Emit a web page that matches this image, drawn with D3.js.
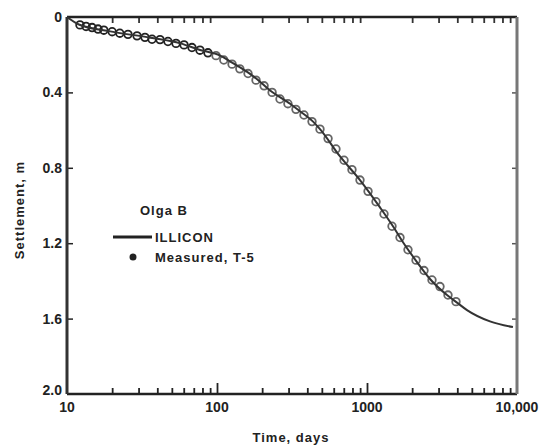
<!DOCTYPE html>
<html>
<head>
<meta charset="utf-8">
<script src="https://cdn.jsdelivr.net/npm/d3@7"></script>
<style>
    body { margin: 0; background: #fff; }
    svg text { font-family: "Liberation Sans", Arial, sans-serif; font-weight: bold; fill: #222; }
</style>
</head>
<body>
<div id="chart"></div>
<script>
// ILLICON prediction (time in days, settlement in m)
var illiconTime = [10, 12, 19, 36, 57, 77, 105, 122, 158, 185, 226, 307, 357, 437, 486, 661, 898, 1221, 1490, 1738, 2154, 2630, 3415, 3981, 4642, 6607, 9400];
var illiconSettle = [0, 0.04, 0.075, 0.11, 0.14, 0.175, 0.205, 0.235, 0.29, 0.33, 0.39, 0.46, 0.50, 0.555, 0.595, 0.74, 0.865, 1.01, 1.11, 1.195, 1.30, 1.39, 1.475, 1.515, 1.555, 1.615, 1.645];

// measured, T-5
var measuredTime = [12.2, 13.4, 14.7, 16.1, 17.6, 20, 22.5, 25.5, 29.3, 33.1, 36.9, 41.7, 47.1, 53.3, 60.3, 68.1, 77, 87, 98.5, 111, 126, 142, 161, 182, 206, 233, 263, 297, 336, 380, 430, 486, 550, 621, 703, 794, 898, 1016, 1148, 1298, 1468, 1660, 1876, 2122, 2399, 2712, 3066, 3467, 3920];
var measuredSettle = [0.042, 0.05, 0.056, 0.064, 0.07, 0.078, 0.086, 0.092, 0.10, 0.108, 0.118, 0.12, 0.13, 0.14, 0.148, 0.162, 0.176, 0.19, 0.205, 0.228, 0.25, 0.275, 0.30, 0.335, 0.365, 0.40, 0.435, 0.46, 0.49, 0.52, 0.555, 0.595, 0.645, 0.70, 0.76, 0.81, 0.865, 0.925, 0.98, 1.045, 1.11, 1.17, 1.235, 1.29, 1.345, 1.395, 1.43, 1.475, 1.51];

var xTickValues = [10, 100, 1000, 10000];
var xTickLabels = ["10", "100", "1000", "10,000"];
var yTickValues = [0, 0.4, 0.8, 1.2, 1.6, 2.0];
var yTickLabels = ["0", "0.4", "0.8", "1.2", "1.6", "2.0"];

var W = 546, H = 447;
var margin = {top: 17, right: 29, bottom: 53, left: 67},
    width = W - margin.left - margin.right,
    height = H - margin.top - margin.bottom;

var svg = d3.select("#chart")
    .append("svg")
    .attr("width", W)
    .attr("height", H);

var g = svg.append("g")
    .attr("transform", "translate(" + margin.left + "," + margin.top + ")");

var x = d3.scaleLog()
    .domain([10, 10000])
    .range([0, width]);

var y = d3.scaleLinear()
    .domain([0, 2.0])
    .range([0, height]);

// minor log ticks for top/bottom axes
var minorTicks = [];
[10, 100, 1000].forEach(function(d){
    for (var k = 2; k <= 9; k++) minorTicks.push(d * k);
});

// bottom axis ticks (inward)
g.append("g")
    .attr("class", "x axis")
    .attr("transform", "translate(0," + height + ")")
    .call(d3.axisBottom(x).tickValues(minorTicks).tickSize(-6).tickFormat(""))
    .call(function(a){
        a.select(".domain").remove();
        a.selectAll("line").attr("stroke", "#222").attr("stroke-width", 1.8);
    });
g.append("g")
    .attr("transform", "translate(0," + height + ")")
    .call(d3.axisBottom(x).tickValues([100, 1000]).tickSize(-11).tickFormat(""))
    .call(function(a){
        a.select(".domain").remove();
        a.selectAll("line").attr("stroke", "#222").attr("stroke-width", 1.8);
    });

// top axis ticks (inward)
g.append("g")
    .call(d3.axisTop(x).tickValues(minorTicks).tickSize(-6).tickFormat(""))
    .call(function(a){
        a.select(".domain").remove();
        a.selectAll("line").attr("stroke", "#333").attr("stroke-width", 1.8);
    });

// left / right ticks
g.append("g")
    .call(d3.axisLeft(y).tickValues(yTickValues.slice(1, 5)).tickSize(-6).tickFormat(""))
    .call(function(a){
        a.select(".domain").remove();
        a.selectAll("line").attr("stroke", "#222").attr("stroke-width", 1.5);
    });
g.append("g")
    .attr("transform", "translate(" + width + ",0)")
    .call(d3.axisRight(y).tickValues(yTickValues.slice(1, 5)).tickSize(-5).tickFormat(""))
    .call(function(a){
        a.select(".domain").remove();
        a.selectAll("line").attr("stroke", "#555").attr("stroke-width", 1.5);
    });

// frame
g.append("line").attr("x1", 0).attr("x2", width).attr("y1", 0).attr("y2", 0)
    .attr("stroke", "#222").attr("stroke-width", 2.5);
g.append("line").attr("x1", 0).attr("x2", width).attr("y1", height).attr("y2", height)
    .attr("stroke", "#222").attr("stroke-width", 2.5);
g.append("line").attr("x1", 0).attr("x2", 0).attr("y1", 0).attr("y2", height)
    .attr("stroke", "#333").attr("stroke-width", 3);
g.append("line").attr("x1", width).attr("x2", width).attr("y1", 0).attr("y2", height)
    .attr("stroke", "#777").attr("stroke-width", 3);

// tick labels
g.append("g")
    .selectAll("text")
    .data(yTickValues).enter()
    .append("text")
    .attr("x", -5)
    .attr("y", function(d){ return d === 2.0 ? y(d) - 4 : y(d); })
    .attr("dy", ".35em")
    .attr("text-anchor", "end")
    .style("font-size", "14px")
    .text(function(d, i){ return yTickLabels[i]; });

g.append("g")
    .selectAll("text")
    .data(xTickValues).enter()
    .append("text")
    .attr("x", function(d){ return x(d); })
    .attr("y", height + 18)
    .attr("text-anchor", "middle")
    .style("font-size", "14px")
    .text(function(d, i){ return xTickLabels[i]; });

// axis titles
svg.append("text")
    .attr("x", 291)
    .attr("y", 442)
    .attr("text-anchor", "middle")
    .style("font-size", "13px")
    .style("letter-spacing", "1px")
    .text("Time, days");

svg.append("text")
    .attr("transform", "translate(24,210) rotate(-90)")
    .attr("text-anchor", "middle")
    .style("font-size", "13px")
    .style("letter-spacing", "1px")
    .text("Settlement, m");

// measured points
g.append("g")
    .selectAll("circle")
    .data(measuredTime).enter()
    .append("circle")
    .attr("cx", function(d){ return x(d); })
    .attr("cy", function(d, i){ return y(measuredSettle[i]); })
    .attr("r", 3.8)
    .attr("fill", "none")
    .attr("stroke", function(d){ return d < 90 ? "#222" : "#666"; })
    .attr("stroke-width", 1.8);

// ILLICON line
var line = d3.line()
    .x(function(d){ return x(d[0]); })
    .y(function(d){ return y(d[1]); })
    .curve(d3.curveMonotoneX);

g.append("path")
    .datum(illiconTime.map(function(t, i){ return [t, illiconSettle[i]]; }))
    .attr("d", line)
    .attr("fill", "none")
    .attr("stroke", "#333")
    .attr("stroke-width", 2);

// legend
var legend = svg.append("g")
    .style("font-size", "13px")
    .style("letter-spacing", "1px");
legend.append("text")
    .attr("x", 140).attr("y", 215)
    .text("Olga B");
legend.append("line")
    .attr("x1", 113).attr("x2", 152).attr("y1", 237).attr("y2", 237)
    .attr("stroke", "#222").attr("stroke-width", 3);
legend.append("text")
    .attr("x", 155).attr("y", 242)
    .text("ILLICON");
legend.append("circle")
    .attr("cx", 133).attr("cy", 257).attr("r", 3.5)
    .attr("fill", "#222");
legend.append("text")
    .attr("x", 155).attr("y", 262)
    .text("Measured, T-5");
</script>
</body>
</html>
